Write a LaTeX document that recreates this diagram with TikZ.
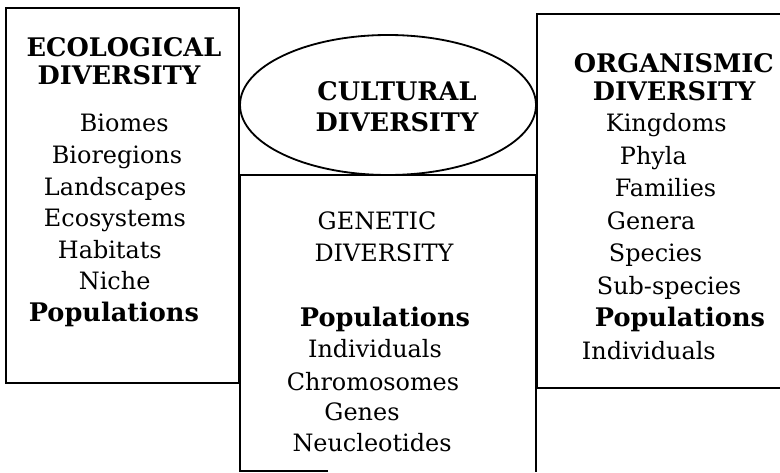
\documentclass[tikz,border=0pt]{standalone}
\usepackage{fontspec}
\setmainfont{DejaVu Serif}
\begin{document}
\begin{tikzpicture}[x=0.025cm,y=-0.025cm,line width=1.3pt,
    every node/.style={inner sep=0pt,anchor=base,font=\fontsize{17}{20}\selectfont},
    head/.style={font=\fontsize{18.2}{21}\selectfont\bfseries}]
  \useasboundingbox (0,0) rectangle (780,472);
  % the three boxes and the ellipse
  \draw (6,8) rectangle (239,383);
  \draw (780,14) -- (537,14) -- (537,388) -- (780,388);
  \draw (328,471) -- (240,471) -- (240,175) -- (536,175) -- (536,472);
  \draw (388,105) ellipse (148 and 70);
  % cultural
  \node[head] (cult1) at (397,101) {CULTURAL};
  \node[head] (cult2) at (397,132) {DIVERSITY};
  % ecological
  \node[head] (eco1) at (124,57) {ECOLOGICAL};
  \node[head] (eco2) at (119,85) {DIVERSITY};
  \node[anchor=base west] (biomes) at (79,132) {Biomes};
  \node[anchor=base west] (bioreg) at (51,163) {Bioregions};
  \node[anchor=base west] (land) at (43,195) {Landscapes};
  \node[anchor=base west] (ecosys) at (43,226) {Ecosystems};
  \node[anchor=base west] (habit) at (57,258) {Habitats};
  \node[anchor=base west] (niche) at (78,289) {Niche};
  \node[head,anchor=base west] (popL) at (28,321) {Populations};
  % genetic
  \node (gen1) at (377,229) {GENETIC};
  \node (gen2) at (384,261) {DIVERSITY};
  \node[head] (popM) at (385,326) {Populations};
  \node (indM) at (375,357) {Individuals};
  \node (chrom) at (373,390) {Chromosomes};
  \node (genes) at (362,420) {Genes};
  \node (neuc) at (372,451) {Neucleotides};
  % organismic
  \node[head,anchor=base west] (org1) at (573,73) {ORGANISMIC};
  \node[head,anchor=base west] (org2) at (592,101) {DIVERSITY};
  \node[anchor=base west] (king) at (605,132) {Kingdoms};
  \node[anchor=base west] (phyla) at (619,164) {Phyla};
  \node[anchor=base west] (fam) at (614,196) {Families};
  \node[anchor=base west] (genera) at (606,229) {Genera};
  \node[anchor=base west] (spec) at (608,261) {Species};
  \node[anchor=base west] (sub) at (596,294) {Sub-species};
  \node[head,anchor=base west] (popR) at (594,326) {Populations};
  \node[anchor=base west] (indR) at (581,359) {Individuals};
\end{tikzpicture}
\end{document}
